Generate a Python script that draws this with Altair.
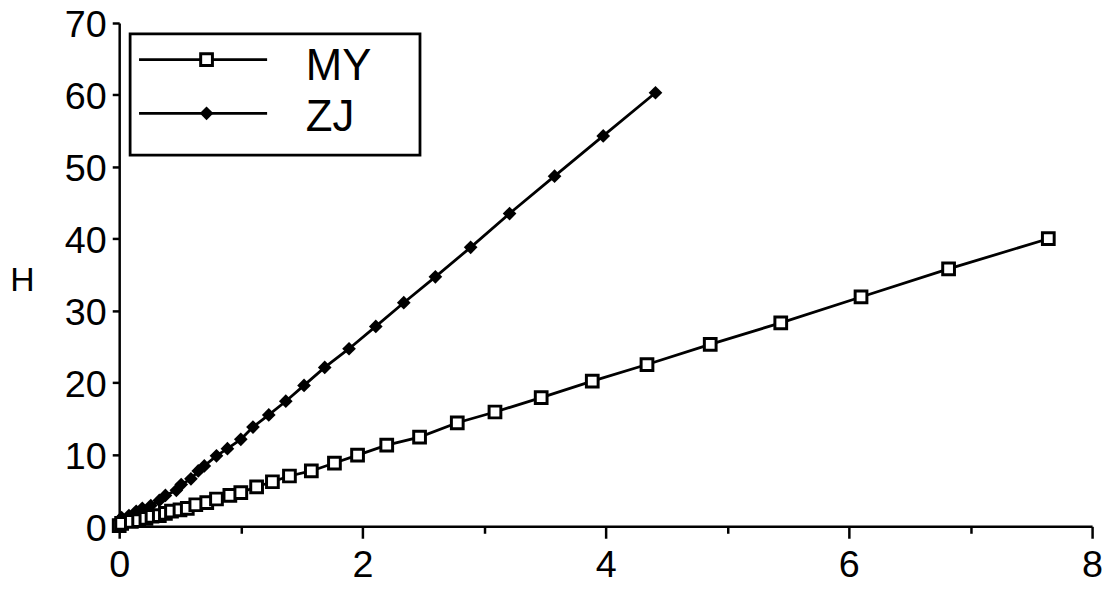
import altair as alt
import pandas as pd

# ---- data ----
zj_x = [0.0, 0.02, 0.08, 0.14, 0.19, 0.26, 0.33, 0.38, 0.47, 0.51, 0.59, 0.65, 0.70, 0.80,
        0.89, 1.00, 1.10, 1.23, 1.37, 1.52, 1.69, 1.89, 2.11, 2.34, 2.60, 2.89, 3.21, 3.58,
        3.98, 4.41]
zj_y = [0.8, 1.2, 1.5, 2.1, 2.5, 2.9, 3.6, 4.3, 5.0, 5.8, 6.6, 7.7, 8.4, 9.8,
        10.8, 12.1, 13.8, 15.5, 17.4, 19.6, 22.1, 24.7, 27.8, 31.1, 34.7, 38.8, 43.5, 48.7,
        54.3, 60.3]

my_x = [0.0, 0.02, 0.10, 0.16, 0.22, 0.27, 0.33, 0.38, 0.43, 0.50, 0.56, 0.63, 0.72, 0.80,
        0.91, 1.00, 1.13, 1.26, 1.40, 1.58, 1.77, 1.96, 2.20, 2.47, 2.78, 3.09, 3.47, 3.89,
        4.34, 4.86, 5.44, 6.10, 6.82, 7.64]
my_y = [0.1, 0.4, 0.7, 0.8, 1.1, 1.4, 1.5, 1.8, 2.1, 2.3, 2.5, 3.0, 3.3, 3.8,
        4.3, 4.7, 5.5, 6.2, 7.0, 7.7, 8.8, 9.9, 11.3, 12.4, 14.4, 15.9, 17.9, 20.2,
        22.5, 25.3, 28.3, 31.9, 35.8, 40.0]

x_ticks = [0, 1, 2, 3, 4, 5, 6, 7, 8]
y_ticks = [0, 5, 10, 15, 20, 25, 30, 35, 40, 45, 50, 55, 60, 65, 70]
series_names = ["MY", "ZJ"]
y_title = "H"

FONT = "Liberation Sans"

zj = pd.DataFrame({"x": zj_x, "y": zj_y})
my = pd.DataFrame({"x": my_x, "y": my_y})

xs = alt.Scale(domain=[0, 8], nice=False, zero=False)
ys = alt.Scale(domain=[0, 70], nice=False, zero=False)

x_axis = alt.Axis(
    values=x_ticks, format="d",
    labelExpr="datum.value % 2 === 0 ? datum.label : ''",
    tickSize={"condition": {"test": "datum.value % 2 === 0", "value": 12}, "value": 7},
    tickWidth=2.5, domainWidth=2.5, domainColor="black", tickColor="black",
    labelFontSize=38, labelFont=FONT, labelColor="black", labelPadding=9,
    labelFlush=False, labelOverlap=False, grid=False, title=None,
)
y_axis = alt.Axis(
    values=y_ticks, format="d",
    labelExpr="datum.value % 10 === 0 ? datum.label : ''",
    tickSize=7, tickWidth=2.5, domainWidth=2.5, domainColor="black", tickColor="black",
    labelFontSize=38, labelFont=FONT, labelColor="black", labelPadding=6, labelOffset=3,
    labelFlush=False, labelOverlap=False, grid=False,
    title=y_title, titleAngle=0, titleX=-98, titleY=259, titleAlign="center",
    titleBaseline="middle", titleFontSize=34, titleFont=FONT, titleFontWeight="normal",
    titleColor="black",
)

zj_line = alt.Chart(zj).mark_line(color="black", strokeWidth=2.8).encode(
    x=alt.X("x:Q", scale=xs, axis=x_axis),
    y=alt.Y("y:Q", scale=ys, axis=y_axis),
)
zj_pts = alt.Chart(zj).mark_point(shape="diamond", filled=True, color="black",
                                  size=190, opacity=1).encode(
    x=alt.X("x:Q", scale=xs), y=alt.Y("y:Q", scale=ys))

my_line = alt.Chart(my).mark_line(color="black", strokeWidth=2.8).encode(
    x=alt.X("x:Q", scale=xs), y=alt.Y("y:Q", scale=ys))
my_pts = alt.Chart(my).mark_point(shape="square", filled=False, fill="white", fillOpacity=1,
                                  stroke="black", strokeWidth=3, size=140, opacity=1).encode(
    x=alt.X("x:Q", scale=xs), y=alt.Y("y:Q", scale=ys))

one = alt.Data(values=[{"k": 0}])

leg_box = alt.Chart(one).mark_rect(fill="white", stroke="black", strokeWidth=2.8).encode(
    x=alt.value(11), x2=alt.value(303), y=alt.value(11), y2=alt.value(133))
leg_my_line = alt.Chart(one).mark_rule(color="black", strokeWidth=2.8).encode(
    x=alt.value(20), x2=alt.value(149), y=alt.value(37))
leg_zj_line = alt.Chart(one).mark_rule(color="black", strokeWidth=2.8).encode(
    x=alt.value(20), x2=alt.value(149), y=alt.value(91))
leg_my_pt = alt.Chart(one).mark_point(shape="square", filled=False, fill="white", fillOpacity=1,
                                      stroke="black", strokeWidth=3, size=140, opacity=1).encode(
    x=alt.value(88), y=alt.value(37))
leg_zj_pt = alt.Chart(one).mark_point(shape="diamond", filled=True, color="black",
                                      size=190, opacity=1).encode(
    x=alt.value(88), y=alt.value(91))
leg_my_txt = alt.Chart(one).mark_text(align="left", baseline="middle", fontSize=44,
                                      font=FONT, color="black").encode(
    x=alt.value(188), y=alt.value(44), text=alt.value(series_names[0]))
leg_zj_txt = alt.Chart(one).mark_text(align="left", baseline="middle", fontSize=44,
                                      font=FONT, color="black").encode(
    x=alt.value(188), y=alt.value(96), text=alt.value(series_names[1]))

chart = alt.layer(
    zj_line, zj_pts, my_line, my_pts,
    leg_box, leg_my_line, leg_zj_line, leg_my_pt, leg_zj_pt, leg_my_txt, leg_zj_txt,
).properties(
    width=980, height=507,
    padding={"left": 112, "top": 13, "right": 12, "bottom": 58},
    autosize=alt.AutoSizeParams(type="none"),
    background="white",
).configure_view(stroke="transparent")

chart.save("out.html", embed_options={"renderer": "svg", "actions": False})
